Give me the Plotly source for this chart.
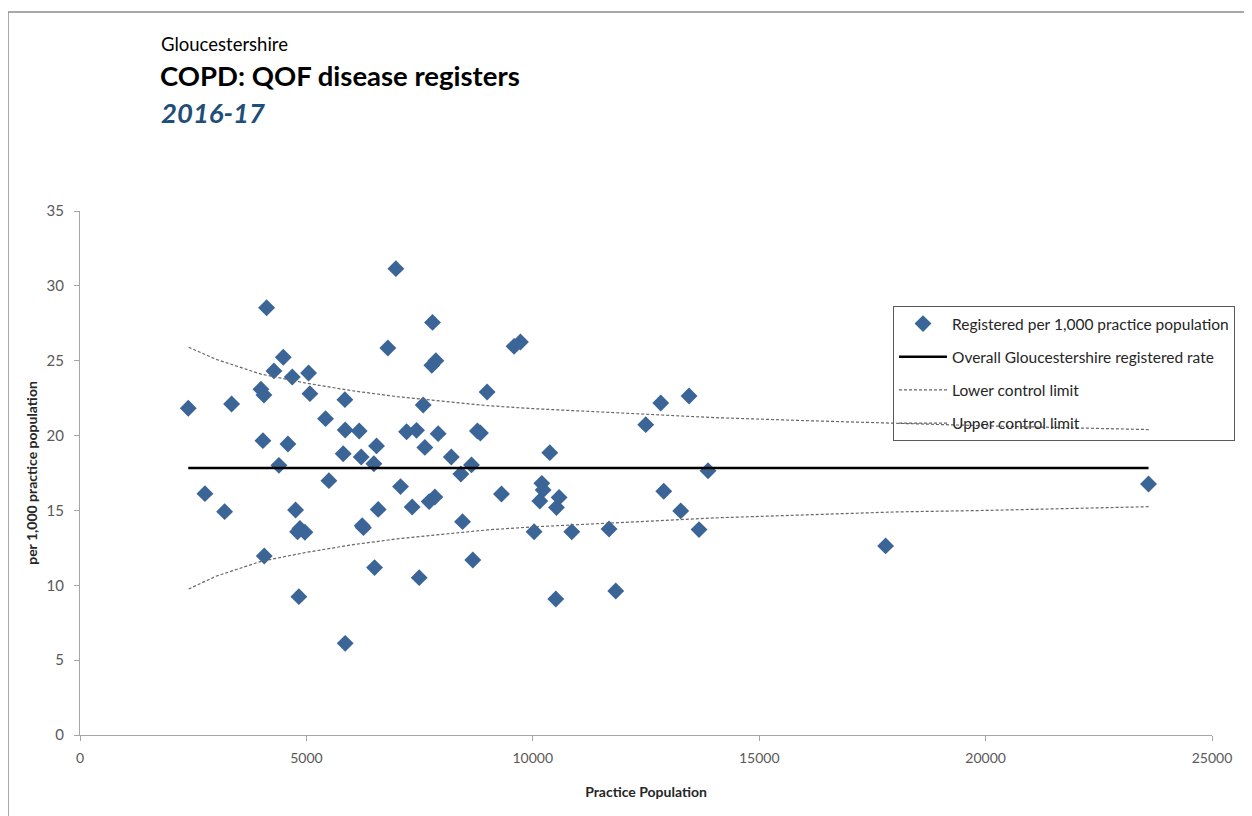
import plotly.graph_objects as go

# Practice population and registered rate per 1,000
population = [2391, 2759, 3194, 3348, 3996, 4040, 4062, 4069, 4121, 4283,
              4393, 4489, 4592, 4688, 4761, 4805, 4834, 4857, 4967, 5048,
              5077, 5423, 5497, 5813, 5850, 5857, 5857, 6166, 6210, 6232,
              6260, 6490, 6505, 6549, 6586, 6799, 6976, 7079, 7212, 7336,
              7432, 7491, 7579, 7616, 7711, 7770, 7785, 7837, 7859, 7910,
              8200, 8411, 8448, 8646, 8675, 8777, 8843, 8991, 9308, 9587,
              9727, 10029, 10155, 10199, 10228, 10375, 10508, 10523, 10581, 10861,
              11684, 11832, 12494, 12826, 12892, 13267, 13451, 13671, 13870, 17792,
              23598]
rate = [21.82, 16.12, 14.92, 22.11, 23.09, 19.66, 22.71, 11.96, 28.54, 24.32,
        18.01, 25.23, 19.44, 23.91, 15.03, 13.58, 9.24, 13.80, 13.54, 24.18,
        22.80, 21.13, 16.99, 18.79, 22.40, 20.37, 6.12, 20.31, 18.57, 13.98,
        13.85, 18.12, 11.18, 19.31, 15.07, 25.85, 31.15, 16.59, 20.26, 15.23,
        20.35, 10.51, 22.04, 19.21, 15.59, 24.69, 27.56, 15.90, 25.00, 20.13,
        18.57, 17.43, 14.25, 18.04, 11.69, 20.31, 20.17, 22.91, 16.10, 25.96,
        26.25, 13.58, 15.63, 16.81, 16.37, 18.86, 9.08, 15.20, 15.87, 13.58,
        13.76, 9.62, 20.73, 22.18, 16.28, 14.97, 22.64, 13.72, 17.65, 12.63,
        16.77]

overall_rate = 17.84

# Control limit curves (at sample populations)
limit_pop = [2400, 3000, 4000, 5000, 6000, 7000, 8000, 9000, 10000, 12000,
             14000, 16000, 18000, 20000, 23600]
upper_limit = [25.9, 25.1, 24.1, 23.5, 23.0, 22.6, 22.3, 22.0, 21.8, 21.5,
               21.2, 21.0, 20.8, 20.65, 20.4]
lower_limit = [9.75, 10.6, 11.6, 12.2, 12.7, 13.1, 13.4, 13.7, 13.9, 14.2,
               14.5, 14.7, 14.9, 15.0, 15.25]

FONT = "Lato"
TICK_COLOR = "#595959"

fig = go.Figure()

fig.add_trace(go.Scatter(
    x=population, y=rate, mode="markers",
    name="Registered per 1,000 practice population",
    marker=dict(symbol="diamond", size=13, color="#3B6597", line=dict(width=0)),
    legendgroup="a",
))
fig.add_trace(go.Scatter(
    x=[min(population), max(population)], y=[overall_rate, overall_rate],
    mode="lines", name="Overall Gloucestershire registered rate",
    line=dict(color="black", width=2.5),
    legendgroup="b",
))
fig.add_trace(go.Scatter(
    x=limit_pop, y=lower_limit, mode="lines", name="Lower control limit",
    line=dict(color="#666666", width=1.2, dash="3px,2px"),
    legendgroup="c",
))
fig.add_trace(go.Scatter(
    x=limit_pop, y=upper_limit, mode="lines", name="Upper control limit",
    line=dict(color="#666666", width=1.2, dash="3px,2px"),
    legendgroup="d",
))

# plot area in page pixels: left 80, right 1212, top 211, bottom 735
PL, PR, PT, PB = 80, 1212, 211, 735
PW, PH = PR - PL, PB - PT

def px(x):
    return (x - PL) / PW

def py(y):
    return (PB - y) / PH

fig.update_layout(
    width=1252, height=816,
    margin=dict(l=72, r=48, t=203, b=89),
    paper_bgcolor="white", plot_bgcolor="white",
    font=dict(family=FONT, size=14, color="#262626"),
    showlegend=True,
    legend=dict(
        x=px(893), y=py(306), xanchor="left", yanchor="top",
        bgcolor="rgba(0,0,0,0)", bordercolor="#595959", borderwidth=1,
        font=dict(family=FONT, size=15.5, color="#262626"),
        tracegroupgap=10, itemwidth=48,
    ),
    xaxis=dict(
        range=[0, 25000], tickvals=[0, 5000, 10000, 15000, 20000, 25000],
        ticktext=["0", "5000", "10000", "15000", "20000", "25000"],
        showgrid=False, zeroline=False, showline=True, linecolor="#A6A6A6",
        ticks="outside", ticklen=5, tickcolor="#A6A6A6", ticklabelstandoff=5,
        tickfont=dict(family=FONT, size=14, color=TICK_COLOR),
        title=dict(text="<b>Practice Population</b>", standoff=22,
                   font=dict(family=FONT, size=14, color="#262626")),
    ),
    yaxis=dict(
        range=[0, 35], tickvals=[0, 5, 10, 15, 20, 25, 30, 35],
        showgrid=False, zeroline=False, showline=True, linecolor="#A6A6A6",
        ticks="outside", ticklen=5, tickcolor="#A6A6A6", ticklabelstandoff=7,
        tickfont=dict(family=FONT, size=15, color=TICK_COLOR),
        title=dict(text="<b>per 1,000 practice population</b>", standoff=5,
                   font=dict(family=FONT, size=14, color="#262626")),
    ),
    shapes=[dict(type="rect", xref="paper", yref="paper",
                 x0=px(8), y0=-0.3, x1=1.2, y1=py(12),
                 line=dict(color="#8C8C8C", width=1.5), fillcolor="rgba(0,0,0,0)",
                 layer="below")],
    annotations=[
        dict(text="Gloucestershire", xref="paper", yref="paper",
             x=px(159), y=py(44), xanchor="left", yanchor="middle",
             showarrow=False, font=dict(family=FONT, size=18.5, color="black")),
        dict(text="<b>COPD: QOF disease registers</b>", xref="paper", yref="paper",
             x=px(158), y=py(75), xanchor="left", yanchor="middle",
             showarrow=False, font=dict(family=FONT, size=27.5, color="black")),
        dict(text="<b><i>2016-17</i></b>", xref="paper", yref="paper",
             x=px(159), y=py(112), xanchor="left", yanchor="middle",
             showarrow=False, font=dict(family=FONT, size=27.5, color="#1F4E79")),
    ],
)

fig.write_html("out.html")
